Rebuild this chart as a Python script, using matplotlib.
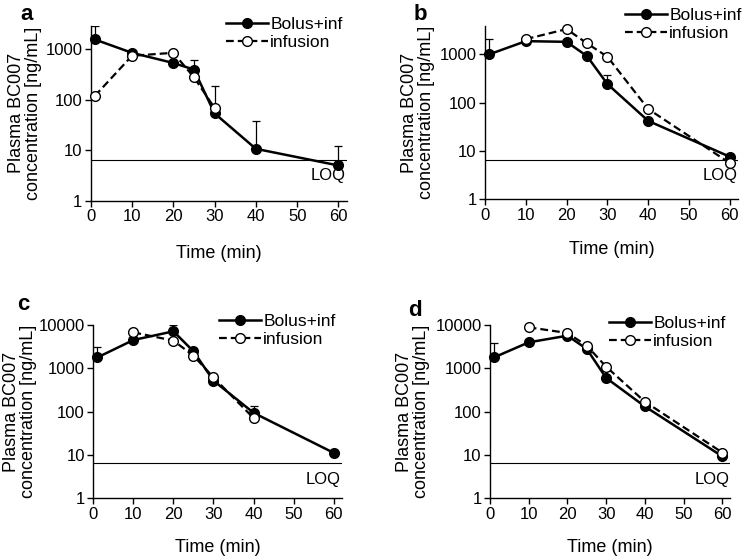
import numpy as np
import matplotlib
matplotlib.use("Agg")
import matplotlib.pyplot as plt

plt.rcParams['font.family'] = ['Liberation Sans', 'DejaVu Sans']

# ---------------- data ----------------
panels = ['a', 'b', 'c', 'd']

t_bolus = [1, 10, 20, 25, 30, 40, 60]

bolus_a = [1580, 860, 540, 400, 54, 10.7, 5.0]
bolus_a_err = [2900, np.nan, np.nan, 610, 187, 38, 12]
t_inf_a = [1, 10, 20, 25, 30]
inf_a = [120, 750, 860, 282, 69]

bolus_b = [1000, 1880, 1820, 920, 243, 42, 7.6]
bolus_b_err = [2040, np.nan, np.nan, np.nan, 375, np.nan, np.nan]
t_inf_b = [10, 20, 25, 30, 40, 60]
inf_b = [2070, 3340, 1690, 895, 74, 5.6]

bolus_c = [1780, 4500, 7140, 2470, 520, 94, 11.2]
bolus_c_err = [3100, np.nan, 10000, 2940, np.nan, 137, np.nan]
t_inf_c = [10, 20, 25, 30, 40]
inf_c = [6770, 4350, 1960, 617, 71]

bolus_d = [1780, 3980, 5670, 2800, 600, 132, 9.3]
bolus_d_err = [3830, np.nan, np.nan, np.nan, np.nan, np.nan, np.nan]
t_inf_d = [10, 20, 25, 30, 40, 60]
inf_d = [8840, 6540, 3330, 1090, 170, 11.4]

loq = [6.5, 6.6, 6.4, 6.4]

x_ticks = [0, 10, 20, 30, 40, 50, 60]
ylim_top = [2925, 3870, 10000, 10000]

bolus_all = [bolus_a, bolus_b, bolus_c, bolus_d]
bolus_err_all = [bolus_a_err, bolus_b_err, bolus_c_err, bolus_d_err]
t_inf_all = [t_inf_a, t_inf_b, t_inf_c, t_inf_d]
inf_all = [inf_a, inf_b, inf_c, inf_d]

# ---------------- layout (pixels) ----------------
W, H = 751, 560
fig = plt.figure(figsize=(W / 100, H / 100), dpi=100)

# (left, right, top, bottom) in pixels
boxes = [(90.7, 346.7, 26, 200.7),
         (485, 738, 26, 199.3),
         (93.3, 341.7, 325, 498.3),
         (490, 730, 325, 498.3)]
letter_pos = [(27, 15), (420, 15), (23, 305), (415, 310)]
ylabel_x = [25, 418, 20, 413]
xlabel_y = [253, 250, 547, 548]
legend_anchor = [(226, 17), (625, 8), (219, 314), (609, 316)]

def fx(px):
    return px / W

def fy(py):
    return 1 - py / H

for i in range(4):
    l, r, t, b = boxes[i]
    ax = fig.add_axes([fx(l), fy(b), (r - l) / W, (b - t) / H])
    ax.set_yscale('log')
    ax.set_xlim(0, 62)
    ax.set_ylim(1, ylim_top[i])
    ax.spines['top'].set_visible(False)
    ax.spines['right'].set_visible(False)
    ax.spines['left'].set_linewidth(1.0)
    ax.spines['bottom'].set_linewidth(1.0)
    ax.set_xticks(x_ticks)
    ax.set_xticklabels([str(v) for v in x_ticks])
    yt = [1, 10, 100, 1000] if ylim_top[i] < 10000 else [1, 10, 100, 1000, 10000]
    ax.set_yticks(yt)
    ax.set_yticklabels([str(v) for v in yt])
    ax.yaxis.set_minor_locator(matplotlib.ticker.NullLocator())
    ax.tick_params(axis='both', direction='out', length=4, width=1.0,
                   labelsize=12, pad=2)

    # LOQ line
    ax.axhline(loq[i], color='black', lw=0.8, zorder=1)
    ax.annotate('LOQ', xy=(61.8, loq[i]), xytext=(0, -6),
                textcoords='offset points', ha='right', va='top', fontsize=12)

    # error bars (upper only)
    yb = np.array(bolus_all[i], dtype=float)
    eu = np.array(bolus_err_all[i], dtype=float)
    mask = ~np.isnan(eu)
    tb = np.array(t_bolus, dtype=float)
    ax.errorbar(tb[mask], yb[mask], yerr=[np.zeros(mask.sum()), eu[mask] - yb[mask]],
                fmt='none', ecolor='black', elinewidth=0.9, capsize=3, capthick=0.9,
                zorder=2)

    ln_b, = ax.plot(t_bolus, bolus_all[i], color='black', lw=1.8, marker='o',
                    markersize=7, markerfacecolor='black', markeredgecolor='black',
                    label='Bolus+inf', zorder=3, clip_on=False)
    ln_i, = ax.plot(t_inf_all[i], inf_all[i], color='black', lw=1.6,
                    linestyle=(0, (3.5, 1.8)), marker='o', markersize=7,
                    markerfacecolor='white', markeredgecolor='black',
                    markeredgewidth=1.0, label='infusion', zorder=4, clip_on=False)

    fig.legend(handles=[ln_b, ln_i], loc='upper left',
               bbox_to_anchor=(fx(legend_anchor[i][0]), fy(legend_anchor[i][1])),
               bbox_transform=fig.transFigure, frameon=False, fontsize=12.5,
               handlelength=2.4, handletextpad=0.15, labelspacing=0.14,
               borderpad=0, borderaxespad=0)

    fig.text(fx(letter_pos[i][0]), fy(letter_pos[i][1]), panels[i],
             fontsize=16, fontweight='bold', ha='center', va='center')
    fig.text(fx(ylabel_x[i]), fy((t + b) / 2), 'Plasma BC007\nconcentration [ng/mL]',
             rotation=90, ha='center', va='center', fontsize=13,
             multialignment='center', linespacing=0.95)
    fig.text(fx((l + r) / 2), fy(xlabel_y[i]), 'Time (min)', ha='center',
             va='center', fontsize=13)

fig.savefig('out.png', dpi=100)
